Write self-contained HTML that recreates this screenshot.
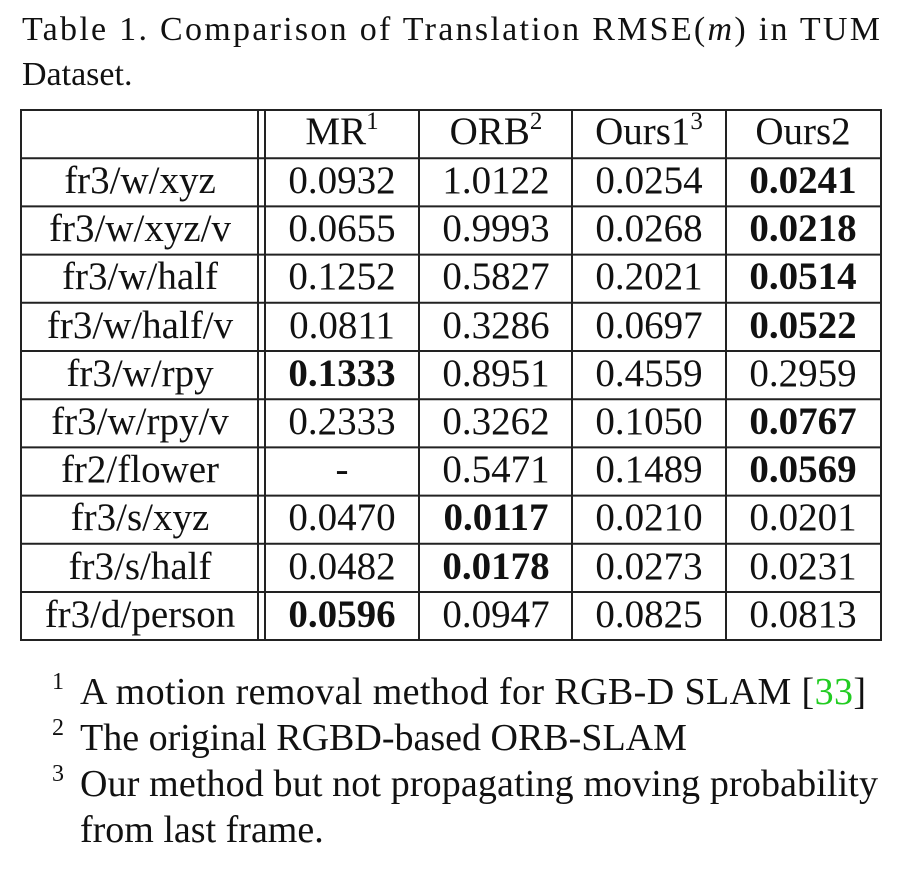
<!DOCTYPE html>
<html><head><meta charset="utf-8"><style>body{margin:0;background:#fff}svg{display:block}</style></head><body>
<svg width="922" height="874" xmlns="http://www.w3.org/2000/svg" font-family="Liberation Serif, serif" fill="#111">
<text x="22" y="40" font-size="34" textLength="858" lengthAdjust="spacing">Table 1. Comparison of Translation RMSE(<tspan font-style="italic">m</tspan>) in TUM</text>
<text x="22" y="85" font-size="34">Dataset.</text>
<g stroke="#222" stroke-width="2" fill="none">
<rect x="21" y="110" width="860" height="530"/>
<line x1="258" y1="110" x2="258" y2="640"/>
<line x1="265" y1="110" x2="265" y2="640"/>
<line x1="419" y1="110" x2="419" y2="640"/>
<line x1="572" y1="110" x2="572" y2="640"/>
<line x1="726" y1="110" x2="726" y2="640"/>
<line x1="21" y1="158.2" x2="881" y2="158.2"/>
<line x1="21" y1="206.4" x2="881" y2="206.4"/>
<line x1="21" y1="254.6" x2="881" y2="254.6"/>
<line x1="21" y1="302.8" x2="881" y2="302.8"/>
<line x1="21" y1="351" x2="881" y2="351"/>
<line x1="21" y1="399.2" x2="881" y2="399.2"/>
<line x1="21" y1="447.4" x2="881" y2="447.4"/>
<line x1="21" y1="495.6" x2="881" y2="495.6"/>
<line x1="21" y1="543.8" x2="881" y2="543.8"/>
<line x1="21" y1="592" x2="881" y2="592"/>
</g>
<g font-size="39" text-anchor="middle">
<text x="342" y="144">MR<tspan font-size="25" dy="-15">1</tspan></text>
<text x="496" y="144">ORB<tspan font-size="25" dy="-15">2</tspan></text>
<text x="649" y="144">Ours1<tspan font-size="25" dy="-15">3</tspan></text>
<text x="803" y="144">Ours2</text>

<text x="140" y="193">fr3/w/xyz</text><text x="342" y="193">0.0932</text><text x="496" y="193">1.0122</text><text x="649" y="193">0.0254</text><text x="803" y="193" font-weight="bold">0.0241</text>
<text x="140" y="241">fr3/w/xyz/v</text><text x="342" y="241">0.0655</text><text x="496" y="241">0.9993</text><text x="649" y="241">0.0268</text><text x="803" y="241" font-weight="bold">0.0218</text>
<text x="140" y="289">fr3/w/half</text><text x="342" y="289">0.1252</text><text x="496" y="289">0.5827</text><text x="649" y="289">0.2021</text><text x="803" y="289" font-weight="bold">0.0514</text>
<text x="140" y="338">fr3/w/half/v</text><text x="342" y="338">0.0811</text><text x="496" y="338">0.3286</text><text x="649" y="338">0.0697</text><text x="803" y="338" font-weight="bold">0.0522</text>
<text x="140" y="386">fr3/w/rpy</text><text x="342" y="386" font-weight="bold">0.1333</text><text x="496" y="386">0.8951</text><text x="649" y="386">0.4559</text><text x="803" y="386">0.2959</text>
<text x="140" y="434">fr3/w/rpy/v</text><text x="342" y="434">0.2333</text><text x="496" y="434">0.3262</text><text x="649" y="434">0.1050</text><text x="803" y="434" font-weight="bold">0.0767</text>
<text x="140" y="482">fr2/flower</text><text x="342" y="482">-</text><text x="496" y="482">0.5471</text><text x="649" y="482">0.1489</text><text x="803" y="482" font-weight="bold">0.0569</text>
<text x="140" y="530">fr3/s/xyz</text><text x="342" y="530">0.0470</text><text x="496" y="530" font-weight="bold">0.0117</text><text x="649" y="530">0.0210</text><text x="803" y="530">0.0201</text>
<text x="140" y="579">fr3/s/half</text><text x="342" y="579">0.0482</text><text x="496" y="579" font-weight="bold">0.0178</text><text x="649" y="579">0.0273</text><text x="803" y="579">0.0231</text>
<text x="140" y="627">fr3/d/person</text><text x="342" y="627" font-weight="bold">0.0596</text><text x="496" y="627">0.0947</text><text x="649" y="627">0.0825</text><text x="803" y="627">0.0813</text>
</g>
<g font-size="38">
<text x="52" y="689" font-size="24">1</text>
<text x="80" y="704" textLength="786" lengthAdjust="spacing">A motion removal method for RGB-D SLAM [<tspan fill="#2c2">33</tspan>]</text>
<text x="52" y="735" font-size="24">2</text>
<text x="80" y="750">The original RGBD-based ORB-SLAM</text>
<text x="52" y="781" font-size="24">3</text>
<text x="80" y="796" textLength="798" lengthAdjust="spacing">Our method but not propagating moving probability</text>
<text x="80" y="842">from last frame.</text>
</g>
</svg>
</body></html>
